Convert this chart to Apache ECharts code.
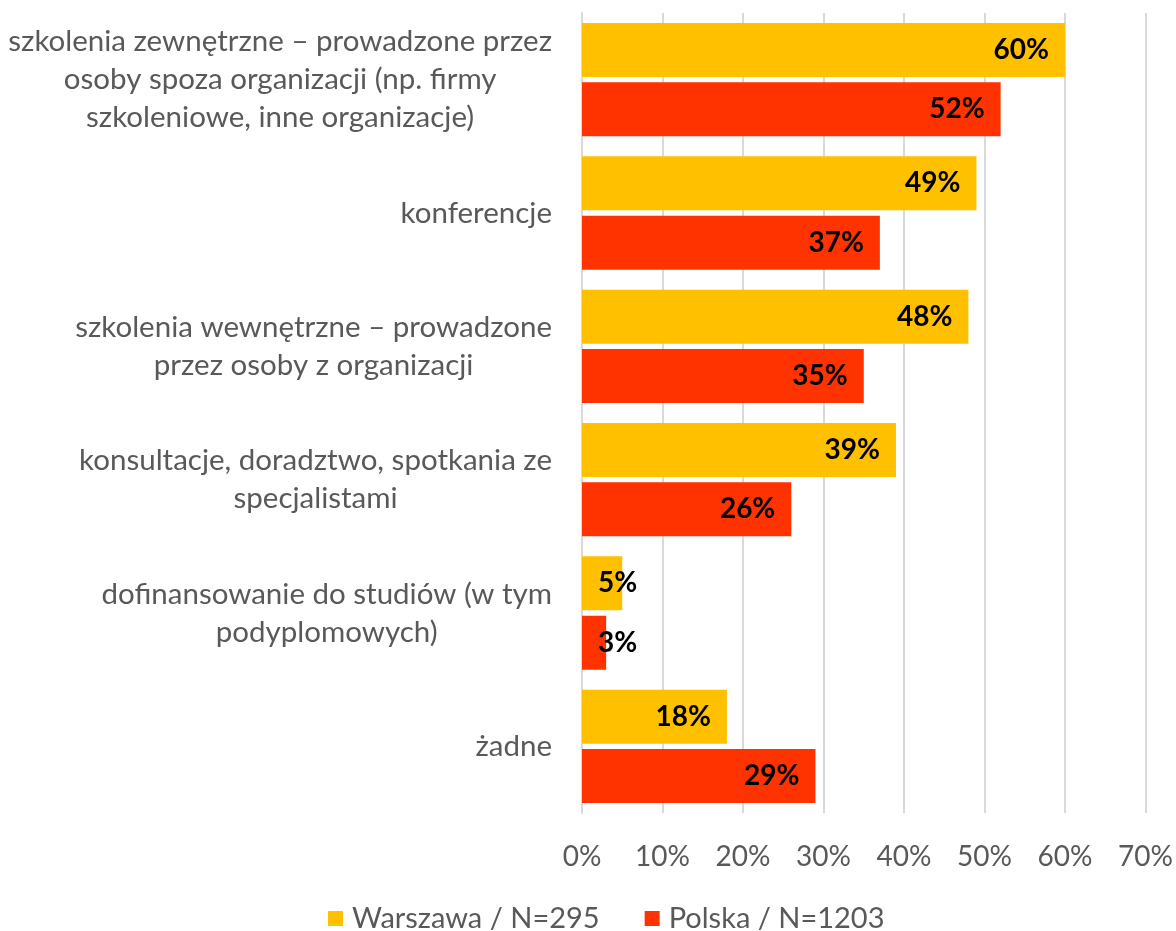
<!DOCTYPE html>
<html>
<head>
<meta charset="utf-8">
<script src="https://cdn.jsdelivr.net/npm/echarts@6/dist/echarts.min.js"></script>
<style>
  html, body { margin: 0; padding: 0; background: #fff; }
  #chart { width: 1176px; height: 931px; }
</style>
</head>
<body>
<div id="chart"></div>
<script>
var categories = [
    'szkolenia zewnętrzne – prowadzone przez\nosoby spoza organizacji (np. firmy\nszkoleniowe, inne organizacje)',
    'konferencje',
    'szkolenia wewnętrzne – prowadzone\nprzez osoby z organizacji',
    'konsultacje, doradztwo, spotkania ze\nspecjalistami',
    'dofinansowanie do studiów (w tym\npodyplomowych)',
    'żadne'
];
var seriesNames = ['Warszawa / N=295', 'Polska / N=1203'];
var warszawa = [60, 49, 48, 39, 5, 18];
var polska = [52, 37, 35, 26, 3, 29];
var xTicks = [0, 10, 20, 30, 40, 50, 60, 70];

var FONT = 'Lato';
var GRAY = '#595959';

// male slupki: etykieta od lewej strony
function makeData(values) {
    return values.map(function (v) {
        if (v < 10) {
            return {value: v, label: {position: 'insideLeft', distance: 16}};
        }
        return v;
    });
}

function barLabel() {
    return {
        show: true,
        position: 'insideRight',
        distance: 16,
        formatter: '{c}%',
        fontFamily: FONT,
        fontWeight: 'bold',
        fontSize: 28,
        color: '#000'
    };
}

var chart = echarts.init(document.getElementById('chart'));
var option = {
    animation: false,
    textStyle: {fontFamily: FONT},
    grid: {left: 582, right: 30, top: 13, bottom: 118, containLabel: false},
    legend: {
        top: 899,
        left: 323,
        itemWidth: 15,
        itemHeight: 15,
        itemGap: 45,
        icon: 'rect',
        textStyle: {fontFamily: FONT, fontSize: 29, color: GRAY, padding: [0, 0, 0, 4]},
        data: seriesNames
    },
    xAxis: {
        type: 'value',
        min: xTicks[0],
        max: xTicks[xTicks.length - 1],
        interval: 10,
        axisLine: {show: false},
        axisTick: {show: false},
        splitLine: {lineStyle: {color: '#d9d9d9', width: 2}},
        axisLabel: {
            formatter: '{value}%',
            fontFamily: FONT,
            fontSize: 28,
            color: GRAY,
            margin: 30
        }
    },
    yAxis: {
        type: 'category',
        inverse: true,
        data: categories,
        axisLine: {lineStyle: {color: '#d9d9d9', width: 2}},
        axisTick: {show: false},
        axisLabel: {
            margin: 30,
            formatter: function (v) {
                return v.split('\n').map(function (s) { return '{c|' + s + '}'; }).join('\n');
            },
            rich: {
                c: {align: 'center', fontFamily: FONT, fontSize: 29.5, color: GRAY, lineHeight: 38}
            }
        }
    },
    series: [
        {
            name: seriesNames[0],
            type: 'bar',
            data: makeData(warszawa),
            itemStyle: {color: '#FFC000'},
            barCategoryGap: '15%',
            barGap: '10%',
            label: barLabel()
        },
        {
            name: seriesNames[1],
            type: 'bar',
            data: makeData(polska),
            itemStyle: {color: '#FF3300'},
            barCategoryGap: '15%',
            barGap: '10%',
            label: barLabel()
        }
    ]
};
chart.setOption(option);
</script>
</body>
</html>
